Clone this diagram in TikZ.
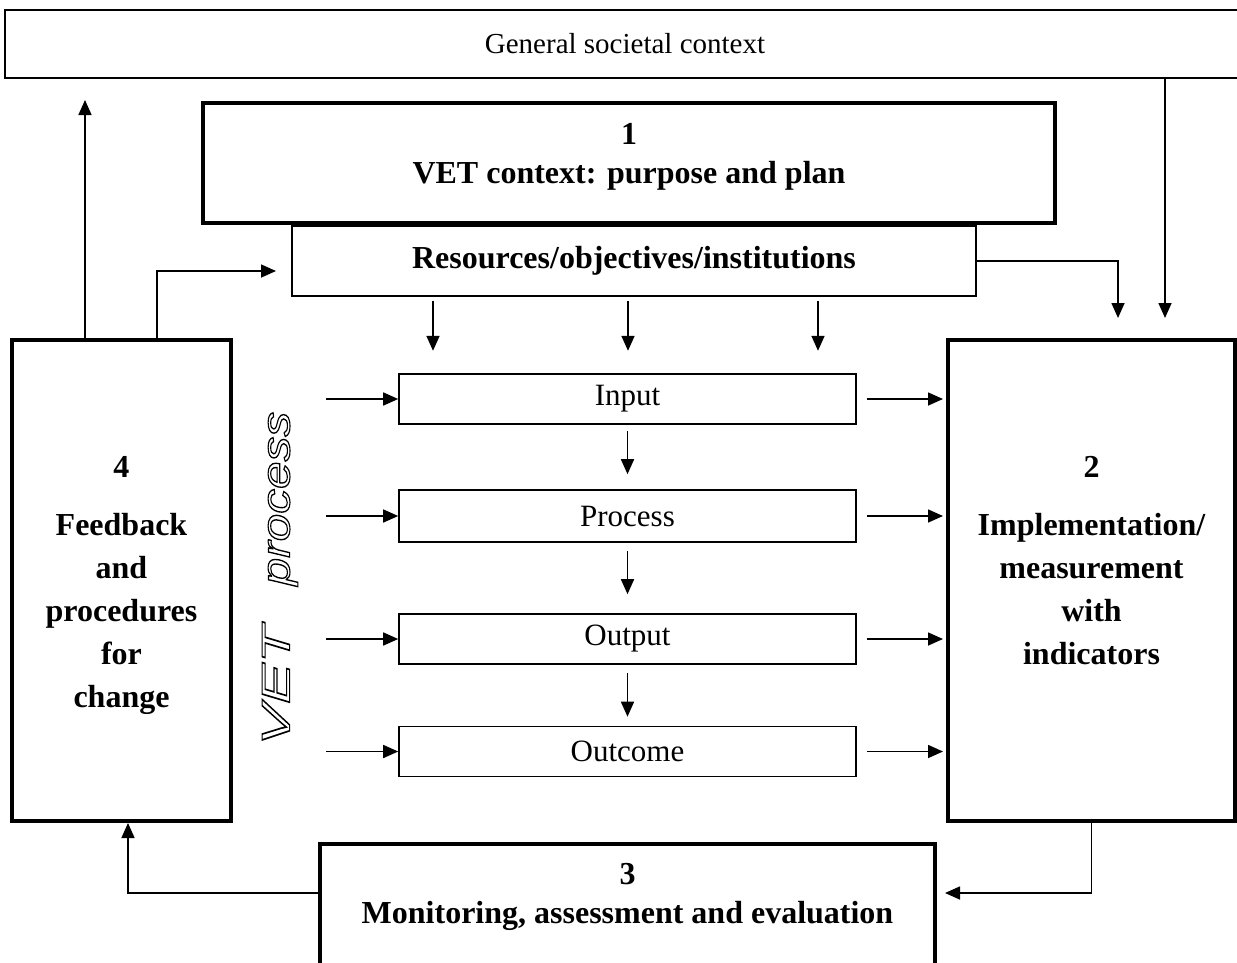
\documentclass[tikz,border=0pt]{standalone}
\usepackage{fontspec}
\setmainfont{Liberation Serif}
\newfontfamily\vetsans{Liberation Sans}
\usetikzlibrary{arrows.meta}
\usetikzlibrary{positioning}
\newcommand{\hollow}[1]{\special{pdf:literal direct 1 Tr 1.1 w}#1\special{pdf:literal direct 0 Tr}}

\begin{document}
\begin{tikzpicture}[x=1pt,y=-1pt,
  bigbox/.style={draw, line width=4pt, inner sep=0pt},
  thinbox/.style={draw, line width=1.6pt, inner sep=0pt},
  stagebox/.style={thinbox, minimum width=457pt, minimum height=50pt},
  boldtext/.style={font=\fontsize{32}{43}\selectfont\bfseries, align=center, inner sep=0pt},
  arr/.style={line width=1.6pt, -{Triangle[length=15pt,width=13pt]}},
  every node/.style={font=\fontsize{31}{42}\selectfont}]
\useasboundingbox (0,0) rectangle (1237,962);

% context boxes
\node[thinbox, font=\fontsize{29}{40}\selectfont, minimum width=1240pt, minimum height=68pt] (society) at (625,44) {General societal context};
\node[bigbox, minimum width=852pt, minimum height=120pt] (vetcontext) at (629,163) {};
\node[boldtext, anchor=north] (vetcontexttxt) at ([yshift=-22pt]vetcontext.north) {1\\[-4pt]VET context: purpose and plan};
\node[thinbox, font=\fontsize{32}{42}\selectfont\bfseries, minimum width=684pt, minimum height=70pt] (resources) at (634,261) {Resources/objectives/institutions};

% the four corner boxes
\node[bigbox, minimum width=219pt, minimum height=481pt] (feedback) at (121.5,580.5) {};
\node[boldtext, anchor=north] (feedbacktxt) at ([yshift=-118pt]feedback.north) {4\\[15pt]Feedback\\and\\procedures\\for\\change};
\node[bigbox, minimum width=287pt, minimum height=481pt] (impl) at (1091.5,580.5) {};
\node[boldtext, anchor=north] (impltxt) at ([yshift=-118pt]impl.north) {2\\[15pt]Implementation/\\measurement\\with\\indicators};
\node[bigbox, minimum width=615pt, minimum height=140pt, anchor=north] (monitor) at (627.5,842) {};
\node[boldtext, anchor=north] (monitortxt) at ([yshift=-21pt]monitor.north) {3\\[-4pt]Monitoring, assessment and evaluation};

% VET process stages
\node[stagebox] (input) at (627.5,399) {Input};
\node[stagebox, minimum height=52pt] (process) at (627.5,516) {Process};
\node[stagebox] (output) at (627.5,639) {Output};
\node[stagebox] (outcome) at (627.5,751.5) {Outcome};
\node[rotate=90, inner sep=0pt, font=\fontsize{40}{46}\selectfont\vetsans\itshape] (vetlabel) at (280,578.5)
  {\scalebox{1.54}[1]{\hollow{VET}}\hspace{40pt}\scalebox{1.24}[1]{\hollow{process}}};

\coordinate (gtip) at (1165,318);
\coordinate (rtip) at (1118,318);
\coordinate (utip) at (85,100);
\coordinate (ftip) at (276,271);
\coordinate (mtip) at (945,893);

\draw[arr] (gtip |- society.south) -- (gtip);
\draw[arr] (resources.east) -| (rtip);
\draw[arr] (utip |- feedback.north) -- (utip);
\draw[arr] ([xshift=35.5pt]feedback.north) |- (ftip);
\foreach \x in {433,628,818}
  \draw[arr] ([yshift=-4pt]resources.south -| \x,0) -- ++(0,50);

\foreach \n in {input,process,output,outcome} {
  \draw[arr] ([xshift=-72pt]\n.west) -- (\n.west);
  \draw[arr] ([xshift=10pt]\n.east) -- ([xshift=-3pt]\n.east -| impl.west);
}
\draw[arr] ([yshift=-6pt]input.south) -- ([yshift=15pt]process.north);
\draw[arr] ([yshift=-8pt]process.south) -- ([yshift=19pt]output.north);
\draw[arr] ([yshift=-8pt]output.south) -- ([yshift=9pt]outcome.north);

\draw[arr] (impl.south) |- (mtip);
\draw[arr] (monitor.west |- mtip) -| ([xshift=6.5pt]feedback.south);
\end{tikzpicture}
\end{document}
